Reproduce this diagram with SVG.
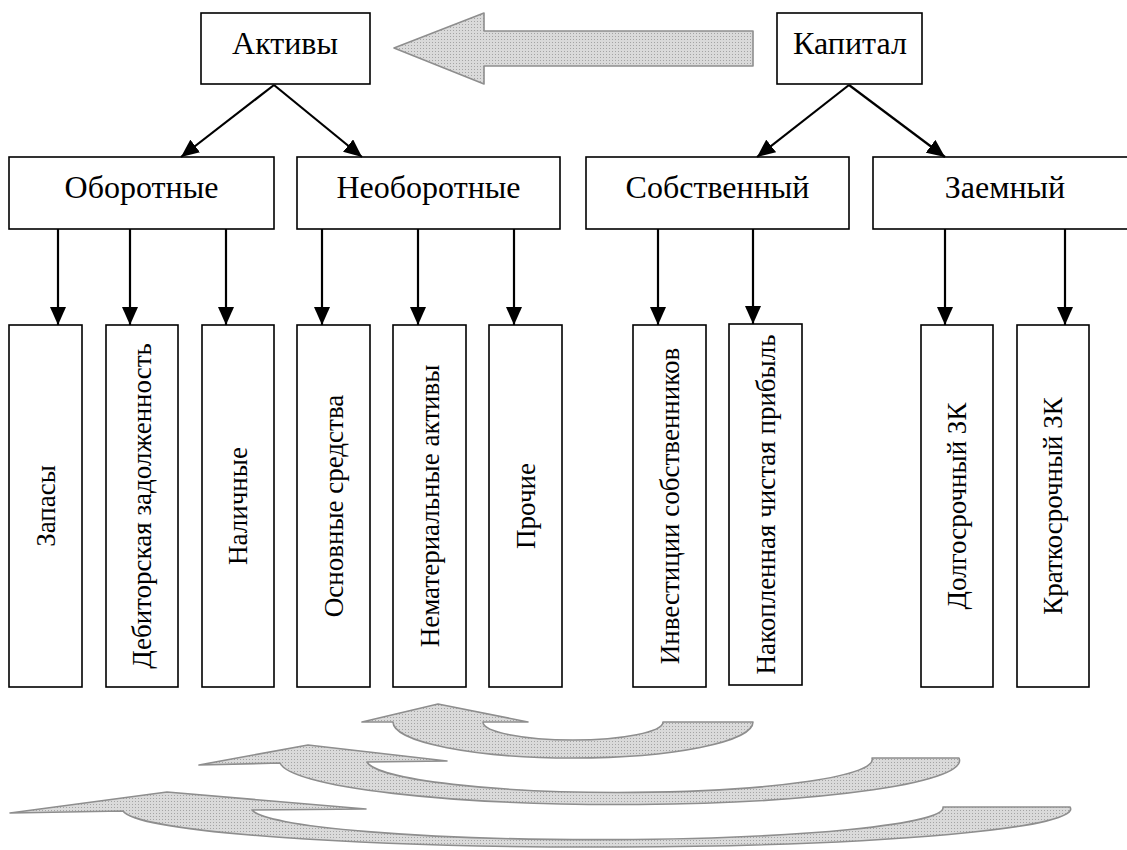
<svg xmlns="http://www.w3.org/2000/svg" width="1127" height="850" viewBox="0 0 1127 850">
<style>
.box{fill:#fff;stroke:#000;stroke-width:1.6}
.t{font-family:"Liberation Serif","Times New Roman",serif;font-size:32px;fill:#000;text-anchor:middle}
.v{font-family:"Liberation Serif","Times New Roman",serif;font-size:27px;fill:#000;text-anchor:middle;dominant-baseline:central}
.c{stroke:#000;stroke-width:2.2;fill:none;marker-end:url(#ah)}
.g{fill:url(#dots);stroke:#8e8e8e;stroke-width:1.6;stroke-linejoin:round}
</style>
<defs>
<marker id="ah" markerUnits="userSpaceOnUse" markerWidth="18" markerHeight="16" viewBox="0 0 18 16" refX="18" refY="8" orient="auto">
<path d="M0,0 L18,8 L0,16 Z" fill="#000"/>
</marker>
<pattern id="dots" width="3" height="3" patternUnits="userSpaceOnUse">
<rect width="3" height="3" fill="#dadada"/>
<rect width="1" height="1" fill="#a4a4a4"/>
</pattern>
</defs>
<g id="big-arrow">
<path class="g" d="M753,31 L484,31 L484,13 L394,48 L484,84 L484,66 L753,66 Z"/>
</g>
<g id="curved-arrows">
<path class="g" d="M753,722 L663,722 A90,18 0 0 1 483,722 L528,722 L438,704 L362,722 L393,722 A180,36 0 0 0 753,722 Z"/>
<path class="g" d="M959,758 L872,758 A253,33 0 0 1 367,762 L447,761 L308,745 L199,765 L280,763 A340,44 0 0 0 959,758 Z"/>
<path class="g" d="M1070,807 L943,807 A346,32 0 0 1 252,810 L366,809 L167,792 L10,813 L123,811 A474,38 0 0 0 1070,807 Z"/>
</g>
<g id="n-aktivy"><rect class="box" x="201" y="13" width="169" height="71"/><text class="t" x="285" y="54">Активы</text></g>
<g id="n-kapital"><rect class="box" x="777" y="13" width="145" height="71"/><text class="t" x="850" y="54">Капитал</text></g>
<g id="n-oborotnye"><rect class="box" x="9" y="157" width="265" height="72"/><text class="t" x="141.5" y="198">Оборотные</text></g>
<g id="n-neoborotnye"><rect class="box" x="297" y="157" width="263" height="72"/><text class="t" x="428.5" y="198">Необоротные</text></g>
<g id="n-sobstvenny"><rect class="box" x="586" y="157" width="263" height="72"/><text class="t" x="717.5" y="198">Собственный</text></g>
<g id="n-zaemny"><rect class="box" x="873" y="157" width="264" height="72"/><text class="t" x="1005" y="198">Заемный</text></g>
<g id="n-zapasy"><rect class="box" x="9" y="325" width="73" height="362"/><text class="v" transform="translate(45.5,506) rotate(-90)">Запасы</text></g>
<g id="n-debitor"><rect class="box" x="106" y="325" width="72" height="362"/><text class="v" transform="translate(142,506) rotate(-90)">Дебиторская задолженность</text></g>
<g id="n-nalichnye"><rect class="box" x="202" y="325" width="72" height="362"/><text class="v" transform="translate(238,506) rotate(-90)">Наличные</text></g>
<g id="n-osnovnye"><rect class="box" x="297" y="325" width="73" height="362"/><text class="v" transform="translate(333.5,506) rotate(-90)">Основные средства</text></g>
<g id="n-nematerial"><rect class="box" x="393" y="325" width="73" height="362"/><text class="v" transform="translate(429.5,506) rotate(-90)">Нематериальные активы</text></g>
<g id="n-prochie"><rect class="box" x="489" y="325" width="73" height="362"/><text class="v" transform="translate(525.5,506) rotate(-90)">Прочие</text></g>
<g id="n-investicii"><rect class="box" x="633" y="325" width="73" height="362"/><text class="v" transform="translate(669.5,506) rotate(-90)">Инвестиции собственников</text></g>
<g id="n-nakoplennaya"><rect class="box" x="729" y="324" width="73" height="361"/><text class="v" transform="translate(765.5,504.5) rotate(-90)">Накопленная чистая прибыль</text></g>
<g id="n-dolgosrochny"><rect class="box" x="921" y="325" width="72" height="362"/><text class="v" transform="translate(957,506) rotate(-90)">Долгосрочный ЗК</text></g>
<g id="n-kratkosrochny"><rect class="box" x="1017" y="325" width="72" height="362"/><text class="v" transform="translate(1053,506) rotate(-90)">Краткосрочный ЗК</text></g>
<g id="connectors">
<line class="c" x1="274" y1="85" x2="181" y2="157"/>
<line class="c" x1="274" y1="85" x2="362" y2="157"/>
<line class="c" x1="849" y1="85" x2="757" y2="157"/>
<line class="c" x1="849" y1="85" x2="945" y2="157"/>
<line class="c" x1="58" y1="229" x2="58" y2="325"/>
<line class="c" x1="130" y1="229" x2="130" y2="325"/>
<line class="c" x1="226" y1="229" x2="226" y2="325"/>
<line class="c" x1="322" y1="229" x2="322" y2="325"/>
<line class="c" x1="418" y1="229" x2="418" y2="325"/>
<line class="c" x1="514" y1="229" x2="514" y2="325"/>
<line class="c" x1="658" y1="229" x2="658" y2="325"/>
<line class="c" x1="753" y1="229" x2="753" y2="324"/>
<line class="c" x1="945" y1="229" x2="945" y2="325"/>
<line class="c" x1="1065" y1="229" x2="1065" y2="325"/>
</g>
</svg>
